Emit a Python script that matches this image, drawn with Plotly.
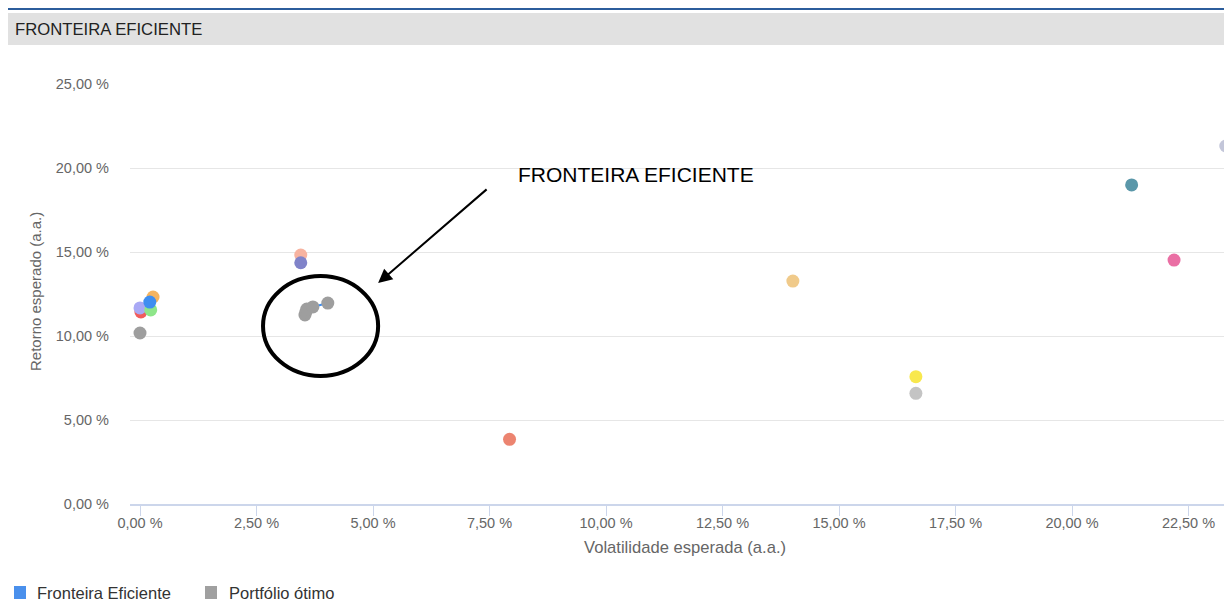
import plotly.graph_objects as go

# ---- data ----
assets = ["A1", "A2", "A3", "A4", "A5", "A6", "A7", "A8",
          "A9", "A10", "A11", "A12", "A13", "A14", "A15"]
volatility = [0.02, 0.00, 0.28, 0.23, 0.21, 0.00, 3.45, 3.45,
              7.93, 14.01, 16.65, 16.65, 21.28, 22.19, 23.30]
returns = [11.43, 11.67, 12.32, 11.55, 12.02, 10.18, 14.82, 14.36,
           3.85, 13.27, 7.58, 6.59, 18.99, 14.52, 21.31]
palette = ["#f15c5c", "#a9a9f5", "#f5b460", "#8ee68a", "#3f8ef0", "#9e9e9e",
           "#f7b3a0", "#8083c9", "#ec8470", "#f0ca8a", "#f8e84e", "#c4c4c4",
           "#5a97a9", "#ea6fa4", "#c3c6d9"]

frontier_vol = [3.54, 3.56, 3.58, 3.71, 4.03]
frontier_ret = [11.25, 11.43, 11.60, 11.73, 11.96]

x_ticks = [0, 2.5, 5, 7.5, 10, 12.5, 15, 17.5, 20, 22.5]
y_ticks = [0, 5, 10, 15, 20, 25]


def pct(v):
    return f"{v:.2f}".replace(".", ",") + " %"


# ---- layout helpers (reference pixel -> paper) ----
OFF = 8  # page body margin
W, H = 1232 - OFF, 603 - OFF
L, R, T, B = 130 - OFF, 1232 - OFF, 84 - OFF, 504 - OFF


def px(p):
    return (p - OFF - L) / (R - L)


def py(p):
    return (B - (p - OFF)) / (B - T)


FONT = "Liberation Sans, Arial, sans-serif"

fig = go.Figure()

fig.add_trace(go.Scatter(
    x=frontier_vol, y=frontier_ret, mode="lines",
    line=dict(color="#3f8ef0", width=2), name="Fronteira Eficiente",
    showlegend=False, hoverinfo="skip"))

fig.add_trace(go.Scatter(
    x=volatility, y=returns, mode="markers", text=assets,
    marker=dict(size=13, color=palette, line=dict(width=0)),
    showlegend=False))

fig.add_trace(go.Scatter(
    x=frontier_vol, y=frontier_ret, mode="markers",
    marker=dict(size=13, color="#9e9e9e", line=dict(width=0)),
    name="Portfólio ótimo", showlegend=False))

shapes = [
    # top blue line
    dict(type="line", xref="paper", yref="paper", x0=px(8), x1=px(1232),
         y0=py(9), y1=py(9), line=dict(color="#2c5d9c", width=2)),
    # header band
    dict(type="rect", xref="paper", yref="paper", x0=px(8), x1=px(1232),
         y0=py(45), y1=py(13), fillcolor="#e1e1e1", line=dict(width=0),
         layer="below"),
    # ellipse
    dict(type="circle", xref="x", yref="y", x0=2.64, x1=5.11, y0=7.62,
         y1=13.57, line=dict(color="black", width=4)),
    # legend squares
    dict(type="rect", xref="paper", yref="paper", x0=px(14), x1=px(26),
         y0=py(599), y1=py(586), fillcolor="#4a90ec", line=dict(width=0)),
    dict(type="rect", xref="paper", yref="paper", x0=px(205), x1=px(217),
         y0=py(599), y1=py(586), fillcolor="#a0a0a0", line=dict(width=0)),
]

annotations = [
    dict(text="FRONTEIRA EFICIENTE", xref="paper", yref="paper", x=px(13),
         y=py(29), xanchor="left", yanchor="middle", showarrow=False,
         font=dict(size=16.7, color="#222222", family=FONT)),
    dict(text="FRONTEIRA EFICIENTE", xref="x", yref="y", x=10.64, y=19.64,
         xanchor="center", yanchor="middle", showarrow=False,
         font=dict(size=21, color="black", family=FONT)),
    dict(text="", xref="x", yref="y", x=5.11, y=13.15, ax=110, ay=-95,
         showarrow=True, arrowhead=2, arrowsize=1.4, arrowwidth=2,
         arrowcolor="black"),
    dict(text="Volatilidade esperada (a.a.)", xref="paper", yref="paper",
         x=px(685), y=py(547), xanchor="center", yanchor="middle",
         showarrow=False, font=dict(size=16.6, color="#666666", family=FONT)),
    dict(text="Retorno esperado (a.a.)", xref="paper", yref="paper",
         x=px(35), y=py(292), xanchor="center", yanchor="middle",
         textangle=-90, showarrow=False,
         font=dict(size=15, color="#666666", family=FONT)),
    dict(text="Fronteira Eficiente", xref="paper", yref="paper", x=px(35),
         y=py(593), xanchor="left", yanchor="middle", showarrow=False,
         font=dict(size=16.5, color="#333333", family=FONT)),
    dict(text="Portfólio ótimo", xref="paper", yref="paper", x=px(227),
         y=py(593), xanchor="left", yanchor="middle", showarrow=False,
         font=dict(size=16.5, color="#333333", family=FONT)),
]

x_left = -10 / 46.6
x_right = (1232 - 140) / 46.6

fig.update_layout(
    width=W, height=H,
    margin=dict(l=L, r=W - R, t=T, b=H - B, pad=0),
    paper_bgcolor="white", plot_bgcolor="white",
    font=dict(family=FONT, color="#666666"),
    shapes=shapes, annotations=annotations,
    showlegend=False,
    xaxis=dict(range=[x_left, x_right], tickvals=x_ticks,
               ticktext=[pct(v) for v in x_ticks], showgrid=False,
               zeroline=False, showline=True, linecolor="#ccd6eb",
               linewidth=1.5, ticks="outside", ticklen=10,
               tickcolor="#ccd6eb", ticklabelstandoff=-5,
               tickfont=dict(size=14.5, color="#666666")),
    yaxis=dict(range=[0, 25], tickvals=y_ticks,
               ticktext=[pct(v) for v in y_ticks], showgrid=True,
               gridcolor="#e6e6e6", gridwidth=1, zeroline=False,
               showline=False, ticks="", ticklabelstandoff=20,
               tickfont=dict(size=14.5, color="#666666")),
)

fig.write_html("out.html")
